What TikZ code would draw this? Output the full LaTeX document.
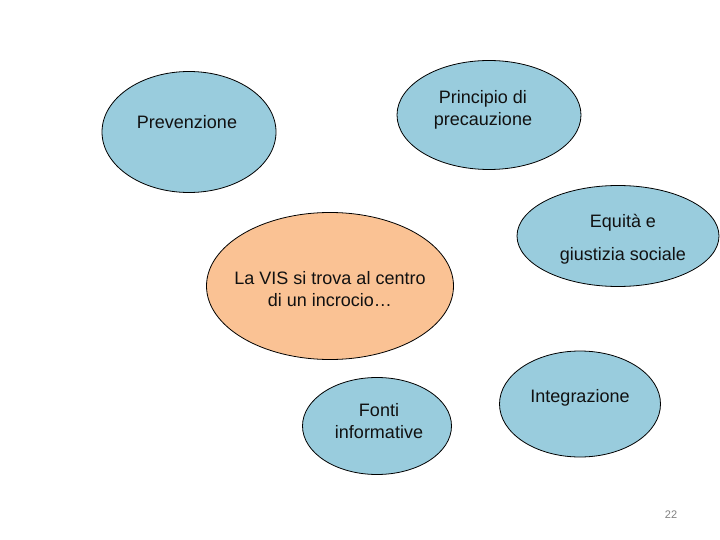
\documentclass[tikz,border=0pt]{standalone}
\usepackage{fontspec}
\setmainfont{Liberation Sans}
\usetikzlibrary{shapes.geometric}

\definecolor{bubbleblue}{RGB}{153,204,221}
\definecolor{bubbleorange}{RGB}{250,194,148}
\definecolor{textblack}{RGB}{17,17,17}

\tikzset{
    bubble/.style={ellipse,draw=black,line width=0.8pt,fill=bubbleblue,inner sep=0pt,outer sep=0pt},
    bubbletext/.style={align=center,text=textblack,inner sep=0pt,font=\fontsize{18}{22}\selectfont},
}

\begin{document}
\begin{tikzpicture}[x=1pt,y=-1pt]
    % Page size (same proportions as the slide):
    \useasboundingbox (0,0) rectangle (720,540);

    % Ellipses:
    % Are nodes of shape `ellipse` with fixed width and height, the text is placed on top of them
    \node [bubble,minimum width=174pt,minimum height=121pt] (prev)  at (189,132) {};
    \node [bubble,minimum width=184pt,minimum height=109pt] (princ) at (489,115) {};
    \node [bubble,minimum width=202pt,minimum height=101pt] (equi)  at (618,236) {};
    \node [bubble,fill=bubbleorange,minimum width=247pt,minimum height=147pt] (vis) at (330,286) {};
    \node [bubble,minimum width=149pt,minimum height=97pt]  (fonti) at (377,426) {};
    \node [bubble,minimum width=161pt,minimum height=106pt] (integ) at (580,404) {};

    % Texts of the ellipses:
    \node [bubbletext] (prev-text)  at (187,122) {Prevenzione};
    \node [bubbletext] (princ-text) at (483,110) {Principio di\\precauzione};
    \node [bubbletext,font=\fontsize{18}{33}\selectfont] (equi-text) at (623,239) {Equità e\\giustizia sociale};
    \node [bubbletext] (vis-text)   at (330,289) {La VIS si trova al centro\\di un incrocio…};
    \node [bubbletext] (fonti-text) at (379,421) {Fonti\\informative};
    \node [bubbletext] (integ-text) at (580,398) {Integrazione};

    % Page number:
    \node [text=gray,font=\fontsize{11}{13}\selectfont] (pagenum) at (671,515) {22};
\end{tikzpicture}
\end{document}
